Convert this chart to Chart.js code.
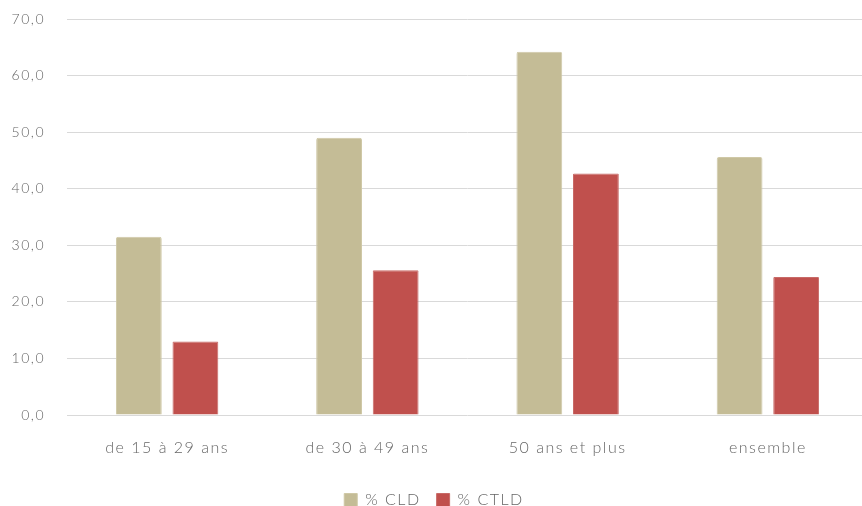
<!DOCTYPE html>
<html><head><meta charset="utf-8">
<script src="https://cdn.jsdelivr.net/npm/chart.js@4"></script>
<style>html,body{margin:0;padding:0;overflow:hidden;background:#fff}#wrap{width:872px;height:518px;position:relative}</style>
</head><body><div id="wrap"><canvas id="c"></canvas></div>
<script>
const categories = ["de 15 à 29 ans", "de 30 à 49 ans", "50 ans et plus", "ensemble"];
const cldValues = [31.5, 49.0, 64.2, 45.6];
const ctldValues = [13.0, 25.6, 42.7, 24.4];
const seriesNames = ["% CLD", "% CTLD"];
const FONT = "Lato";
Chart.defaults.font.family = FONT;
Chart.defaults.color = "#666666";
const spacing = {id:'spacing',
  beforeLayout(c){ c.ctx.letterSpacing='1.5px'; },
  beforeDraw(c){ c.ctx.letterSpacing='1.5px'; }};
new Chart(document.getElementById('c'), {
  type: 'bar',
  plugins:[spacing],
  data: {
    labels: categories,
    datasets: [
      {label: seriesNames[0], data: cldValues, backgroundColor: '#C4BC96', borderColor:'#CFC8A6', borderWidth:1, borderRadius:2, borderSkipped:'bottom', categoryPercentage:0.565, barPercentage:0.81},
      {label: seriesNames[1], data: ctldValues, backgroundColor: '#C0504D', borderColor:'#C86A67', borderWidth:1, borderRadius:1, borderSkipped:'bottom', categoryPercentage:0.565, barPercentage:0.81}
    ]
  },
  options: {
    responsive: true, maintainAspectRatio: false, animation: false,
    layout: {padding: {top: 19, right: 4, left: 0, bottom: 0}},
    plugins: {
      tooltip: {enabled: false},
      legend: {position: 'bottom', labels: {boxWidth: 13, boxHeight: 13, padding: 16, font: {size: 16, weight: '300'}}}
    },
    scales: {
      x: {grid: {display: false, drawTicks:false}, border: {display: false},
          afterFit: s => { s.height = 61; },
          ticks: {font: {size: 16, weight: '300'}, padding: 23}},
      y: {min: 0, max: 70, grid: {color: '#D9D9D9', lineWidth: 1, drawTicks: false}, border: {display: false},
          afterFit: s => { s.width = 67; s.paddingTop = 0; s.paddingBottom = 0; },
          ticks: {stepSize: 10, padding: 22, font: {size: 14, weight: '300'},
                  callback: v => Number(v).toFixed(1).replace('.', ',')}}
    }
  }
});
</script></body></html>
